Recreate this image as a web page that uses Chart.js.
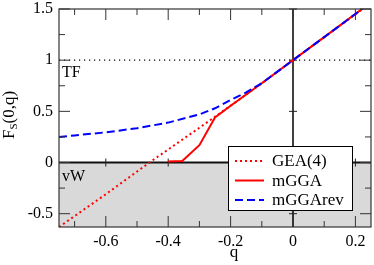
<!DOCTYPE html>
<html><head><meta charset="utf-8">
<style>html,body{margin:0;padding:0;background:#fff;}#wrap{width:374px;height:265px;}</style>
<script src="https://cdn.jsdelivr.net/npm/chart.js@4/dist/chart.umd.min.js"></script>
</head><body><div id="wrap"><canvas id="c" width="374" height="265"></canvas></div>
<script>
// ---- data ----
const qGEA  = [-0.75, -0.6, -0.46, -0.3, -0.2, -0.1, 0, 0.1, 0.25];
const fGEA  = [-0.63, -0.31, 0.0, 0.34, 0.555, 0.775, 1.0, 1.225, 1.56];
const qMGGA = [-0.40, -0.355, -0.30, -0.25, -0.2, -0.1, 0, 0.1, 0.25];
const fMGGA = [0.01, 0.015, 0.17, 0.44, 0.555, 0.775, 1.0, 1.225, 1.565];
const qREV  = [-0.75, -0.7, -0.6, -0.5, -0.4, -0.3, -0.25, -0.2, -0.15, -0.1, 0, 0.1, 0.25];
const fREV  = [0.25, 0.265, 0.295, 0.335, 0.39, 0.47, 0.53, 0.61, 0.685, 0.775, 1.0, 1.225, 1.565];
const seriesNames = ['GEA(4)', 'mGGA', 'mGGArev'];
const xTicks = [-0.6, -0.4, -0.2, 0, 0.2];
const xMinor = [-0.7, -0.5, -0.3, -0.1, 0.1];
const yTicks = [-0.5, 0, 0.5, 1, 1.5];
const yMinor = [-0.25, 0.25, 0.75, 1.25];
const refLevel = 1;      // TF dotted line
const refLabels = ['TF', 'vW'];

const FONT = 'Liberation Serif';
const pts = (xs, ys) => xs.map((x, i) => ({x, y: ys[i]}));
const noPad = s => { s.paddingTop = 0; s.paddingBottom = 0; s.paddingLeft = 0; s.paddingRight = 0; };

const decor = {
  id: 'decor',
  beforeDatasetsDraw(chart) {
    const {ctx, chartArea: a, scales: {x, y}} = chart;
    ctx.save();
    const y0 = y.getPixelForValue(0);
    ctx.fillStyle = '#d9d9d9';
    ctx.fillRect(a.left, y0, a.right - a.left, a.bottom - y0);
    const y1 = y.getPixelForValue(refLevel);
    ctx.strokeStyle = '#000'; ctx.lineWidth = 1.2; ctx.setLineDash([1.2, 3.8]);
    ctx.beginPath(); ctx.moveTo(a.left, y1); ctx.lineTo(a.right, y1); ctx.stroke();
    ctx.setLineDash([]);
    const x0 = x.getPixelForValue(0);
    ctx.lineWidth = 1.5; ctx.strokeStyle = '#000';
    ctx.beginPath(); ctx.moveTo(x0, a.top); ctx.lineTo(x0, a.bottom); ctx.stroke();
    ctx.lineWidth = 2.2; ctx.strokeStyle = '#111';
    ctx.beginPath(); ctx.moveTo(a.left, y0); ctx.lineTo(a.right, y0); ctx.stroke();
    ctx.lineWidth = 1; ctx.strokeStyle = '#222';
    ctx.beginPath();
    xTicks.forEach(v => { const px = x.getPixelForValue(v); ctx.moveTo(px, y0 - 4); ctx.lineTo(px, y0 + 4); });
    yTicks.forEach(v => { const py = y.getPixelForValue(v); ctx.moveTo(x0 - 4, py); ctx.lineTo(x0 + 4, py); });
    ctx.stroke();
    ctx.fillStyle = '#000'; ctx.font = '16px "' + FONT + '"'; ctx.textBaseline = 'middle'; ctx.textAlign = 'left';
    ctx.fillText(refLabels[0], a.left + 3, y1 + 13);
    ctx.fillText(refLabels[1], a.left + 3, y0 + 14);
    ctx.restore();
  },
  afterDatasetsDraw(chart) {
    const {ctx, chartArea: a, scales: {x, y}} = chart;
    ctx.save();
    ctx.strokeStyle = '#333'; ctx.lineWidth = 1.2;
    ctx.strokeRect(a.left, a.top, a.right - a.left, a.bottom - a.top);
    ctx.lineWidth = 1; ctx.strokeStyle = '#333';
    ctx.beginPath();
    const tx = (v, len) => { const px = x.getPixelForValue(v);
      ctx.moveTo(px, a.bottom); ctx.lineTo(px, a.bottom - len);
      ctx.moveTo(px, a.top); ctx.lineTo(px, a.top + len); };
    const ty = (v, len) => { const py = y.getPixelForValue(v);
      ctx.moveTo(a.left, py); ctx.lineTo(a.left + len, py);
      ctx.moveTo(a.right, py); ctx.lineTo(a.right - len, py); };
    xTicks.forEach(v => tx(v, 11)); xMinor.forEach(v => tx(v, 6));
    yTicks.forEach(v => ty(v, 11)); yMinor.forEach(v => ty(v, 6));
    ctx.stroke();
    // legend
    const L = 228, T = 146, R = 352, B = 210;
    ctx.fillStyle = '#fff'; ctx.fillRect(L, T, R - L, B - T);
    ctx.strokeStyle = '#000'; ctx.lineWidth = 1; ctx.strokeRect(L + 0.5, T + 0.5, R - L, B - T);
    [0, 1, 2].forEach((di, i) => {
      const ds = chart.data.datasets[di];
      const yy = 161 + i * 19.5;
      ctx.strokeStyle = ds.borderColor; ctx.lineWidth = ds.borderWidth;
      ctx.setLineDash(ds.borderDash || []);
      ctx.beginPath(); ctx.moveTo(235, yy); ctx.lineTo(264, yy); ctx.stroke();
      ctx.setLineDash([]);
      ctx.fillStyle = '#000'; ctx.font = '17px "' + FONT + '"';
      ctx.textBaseline = 'middle'; ctx.textAlign = 'left';
      ctx.fillText(ds.label, 272, yy + 1);
    });
    ctx.fillStyle = '#000'; ctx.textBaseline = 'alphabetic';
    ctx.font = '17px "' + FONT + '"'; ctx.textAlign = 'center';
    ctx.fillText('q', 234, 257);
    ctx.save();
    ctx.translate(14, 115); ctx.rotate(-Math.PI / 2);
    ctx.textAlign = 'left';
    const f1 = '17px "' + FONT + '"', f2 = '11px "' + FONT + '"';
    ctx.font = f1; const wF = ctx.measureText('F').width, wR = ctx.measureText('(0,q)').width;
    ctx.font = f2; const wS = ctx.measureText('S').width;
    let sx = -(wF + wS + wR) / 2;
    ctx.font = f1; ctx.fillText('F', sx, 0); sx += wF;
    ctx.font = f2; ctx.fillText('S', sx, 3); sx += wS;
    ctx.font = f1; ctx.fillText('(0,q)', sx, 0);
    ctx.restore();
    ctx.restore();
  }
};

const tickFont = {family: FONT, size: 16};
new Chart(document.getElementById('c'), {
  type: 'scatter',
  data: {datasets: [
    {label: seriesNames[0], data: pts(qGEA, fGEA), showLine: true, borderColor: '#ff0000', borderWidth: 2, borderDash: [2, 3], pointRadius: 0, order: 3, clip: 0, tension: 0},
    {label: seriesNames[1], data: pts(qMGGA, fMGGA), showLine: true, borderColor: '#ff0000', borderWidth: 2, pointRadius: 0, order: 2, clip: 0, tension: 0},
    {label: seriesNames[2], data: pts(qREV, fREV), showLine: true, borderColor: '#0000ff', borderWidth: 2, borderDash: [8, 4], pointRadius: 0, order: 1, clip: 0, tension: 0}
  ]},
  options: {
    responsive: false, animation: false, devicePixelRatio: 1,
    layout: {padding: {top: 9, right: 3, left: 0, bottom: 0}},
    plugins: {legend: {display: false}, tooltip: {enabled: false}},
    scales: {
      x: {type: 'linear', min: -0.75, max: 0.25,
        afterBuildTicks: s => { s.ticks = xTicks.map(v => ({value: v})); },
        afterFit: s => { s.height = 38; noPad(s); },
        grid: {display: false, drawTicks: false}, border: {display: false},
        ticks: {font: tickFont, color: '#000', padding: 5, maxRotation: 0, autoSkip: false, callback: v => String(v)}},
      y: {type: 'linear', min: -0.63, max: 1.5,
        afterBuildTicks: s => { s.ticks = yTicks.map(v => ({value: v})); },
        afterFit: s => { s.width = 59; noPad(s); },
        grid: {display: false, drawTicks: false}, border: {display: false},
        ticks: {font: tickFont, color: '#000', padding: 6, autoSkip: false, callback: v => String(v)}}
    }
  },
  plugins: [decor]
});
</script>
</body></html>
